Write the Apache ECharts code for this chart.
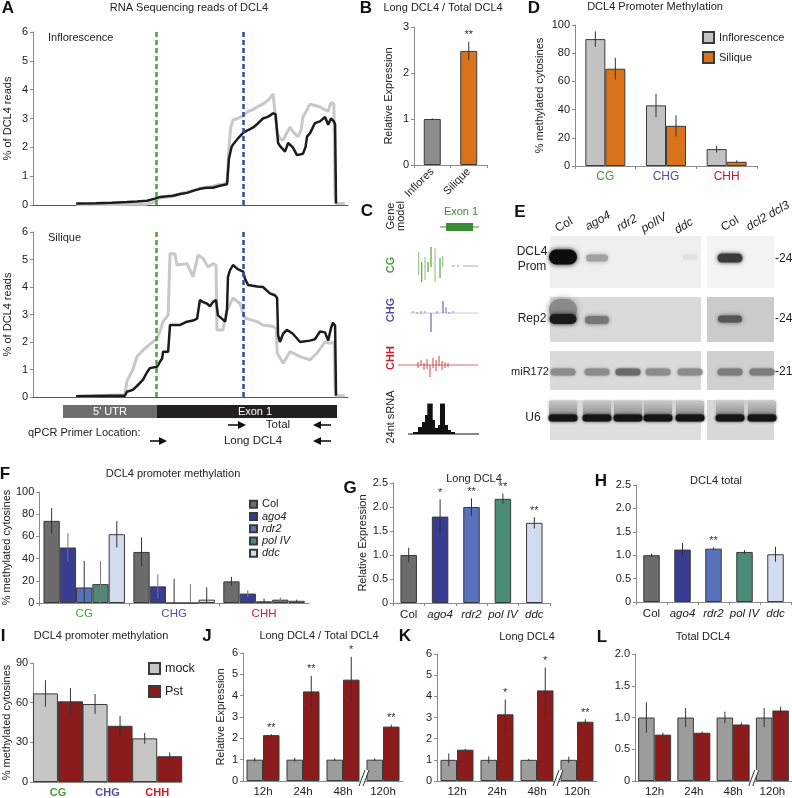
<!DOCTYPE html>
<html><head><meta charset="utf-8">
<script src="https://cdn.jsdelivr.net/npm/echarts@6/dist/echarts.min.js"></script>
<style>html,body{margin:0;padding:0;background:#fff}#c{width:792px;height:798px}</style>
</head><body><div id="c"></div>
<script>
var FONT = '"Liberation Sans", Arial, Helvetica, sans-serif';

// ---------------- DATA ----------------
// Panel A: read coverage along DCL4 (relative position 0-100, % of reads)
var inflorBlack = [[13.7,0.05],[20,0.06],[25,0.08],[29.8,0.1],[33,0.12],[36.2,0.15],[38.7,0.22],[40.3,0.28],[42.5,0.3],[44.4,0.32],[46.7,0.38],[48.9,0.42],[51,0.5],[53,0.56],[55.2,0.6],[57.1,0.6],[59,0.66],[61.6,0.72],[62.2,1.6],[63,2.0],[63.5,2.1],[65,2.3],[66.7,2.5],[68.3,2.6],[69.8,2.68],[71.1,2.8],[73,3.0],[74.3,3.05],[75.2,3.1],[76.2,3.18],[77,3.15],[77.8,2.15],[78.4,2.05],[80,1.85],[81,2.15],[81.6,2.1],[82.5,2.0],[83.8,1.73],[85.7,1.78],[86.5,2.0],[87,2.37],[88,2.5],[89.5,2.84],[91.1,2.9],[92.7,3.05],[93.7,2.78],[94.6,3.0],[95.5,2.9],[95.9,2.8],[96.2,0.05]];
var inflorGrey = [[13.7,0.02],[25,0.02],[36,0.03],[38.5,0.1],[39.4,0.2],[40.3,0.25],[42.5,0.28],[44.4,0.3],[46.7,0.38],[48.9,0.45],[51,0.5],[53,0.58],[55.2,0.62],[57.1,0.65],[59,0.7],[61.6,0.75],[62.2,2.0],[62.8,2.7],[63.5,2.95],[65,3.0],[66.7,3.1],[68.3,3.25],[69.8,3.3],[71.1,3.4],[73,3.5],[74.3,3.6],[75.2,3.7],[76.2,3.85],[76.8,3.85],[77.5,2.5],[78.4,2.3],[79.4,2.25],[80.6,2.5],[81.6,2.7],[82.5,2.55],[84.1,2.37],[85.1,2.6],[85.7,3.05],[87,3.3],[87.9,3.5],[89.5,3.45],[91.1,3.4],[92.7,3.3],[93.7,3.25],[94.6,3.55],[95.5,3.5],[95.9,0.3],[96.2,0.05],[99,0.05]];
var siliqueBlack = [[13.7,0.03],[25,0.05],[29.2,0.05],[29.8,0.19],[31.7,0.26],[33,0.4],[34.9,0.62],[36.2,0.9],[37.1,1.05],[39.4,1.1],[40.3,1.28],[41,1.4],[41.3,1.65],[42.9,1.65],[43.5,2.62],[46.7,2.62],[48.9,2.74],[50.8,2.78],[52.1,2.85],[52.7,2.9],[53,3.53],[54,3.45],[55.2,3.4],[56.2,3.3],[57.1,3.45],[58.1,3.53],[58.7,2.98],[61,2.74],[61.6,3.2],[61.9,4.37],[62.5,4.6],[63.5,4.8],[65,4.65],[66.7,4.56],[67.3,4.3],[68.3,4.07],[71.1,4.02],[73,4.0],[75.2,3.77],[76.8,3.7],[77.5,3.6],[77.8,2.25],[78.4,2.0],[79.4,2.3],[80.6,2.44],[82.5,2.3],[84.8,2.0],[87.9,2.05],[89.5,2.1],[91.1,2.38],[92.7,2.35],[93.7,2.05],[94.6,2.5],[95.2,2.7],[95.9,2.6],[96.2,0.05]];
var siliqueGrey = [[13.7,0.03],[29.2,0.08],[29.8,0.56],[31.7,1.0],[33,1.47],[34.9,1.7],[36.2,1.83],[38.7,2.07],[39.4,2.1],[41.3,2.74],[42.9,2.98],[43.5,5.22],[45.1,5.2],[45.7,4.8],[48.9,4.85],[50.8,4.37],[52.4,5.16],[54,5.04],[55.6,4.73],[57.1,4.85],[58.1,4.8],[58.4,2.44],[60.3,2.44],[61.6,3.16],[63.5,3.6],[65.7,3.4],[67.3,2.87],[71.1,2.74],[73,2.62],[76.2,2.56],[77.2,2.5],[77.5,1.6],[79.4,1.23],[81.6,1.65],[84.8,1.47],[87.9,1.35],[90.2,1.6],[92.7,2.0],[94.3,1.95],[95.6,2.0],[95.9,0.3],[96.2,0.05],[99,0.05]];
var aMarkers = [39, 66.7];

// Panel B
var bCats = ['Inflores', 'Silique'];
var bVals = [1.0, 2.48];
var bErr = [0.015, 0.2];
var bSig = ['', '**'];

// Panel D
var dCats = ['CG', 'CHG', 'CHH'];
var dInflo = [90, 43, 12];
var dInfloErr = [5.5, 8.3, 2.4];
var dSiliq = [69, 28.5, 3];
var dSiliqErr = [7.7, 7.5, 1];

// Panel F
var fCats = ['CG', 'CHG', 'CHH'];
var fGenotypes = ['Col', 'ago4', 'rdr2', 'pol IV', 'ddc'];
var fCol = [74, 46, 19.5], fColErr = [11.5, 13, 4];
var fAgo4 = [50, 15, 8.5], fAgo4Err = [13, 11, 3];
var fRdr2 = [14, 0, 1.5], fRdr2Err = [24, 22, 2.5];
var fPolIV = [17, 0, 3], fPolIVErr = [21, 17, 2];
var fDdc = [62, 3, 2], fDdcErr = [12, 11, 1];

// Panel G / H
var gCats = ['Col', 'ago4', 'rdr2', 'pol IV', 'ddc'];
var gVals = [1.0, 1.8, 2.0, 2.17, 1.67], gErr = [0.15, 0.36, 0.18, 0.11, 0.12], gSig = ['', '*', '**', '**', '**'];
var hVals = [1.0, 1.12, 1.14, 1.07, 1.02], hErr = [0.03, 0.14, 0.03, 0.04, 0.16], hSig = ['', '', '**', '', ''];

// Panel I
var iCats = ['CG', 'CHG', 'CHH'];
var iMock = [67, 59, 33], iMockErr = [10, 7.5, 4];
var iPst = [61, 42.5, 19.5], iPstErr = [10, 7.5, 3];

// Panels J, K, L
var tCats = ['12h', '24h', '48h', '120h'];
var jMock = [1, 1, 1, 1], jMockErr = [0.09, 0.09, 0.06, 0.06];
var jPst = [2.15, 4.2, 4.75, 2.55], jPstErr = [0.05, 0.73, 1.07, 0.09], jSig = ['**', '**', '*', '**'];
var kMock = [1, 1, 1, 1], kMockErr = [0.3, 0.17, 0.05, 0.15];
var kPst = [1.48, 3.15, 4.28, 2.8], kPstErr = [0.04, 0.7, 1.08, 0.12], kSig = ['', '*', '*', '**'];
var lMock = [1, 1, 1, 1], lMockErr = [0.24, 0.15, 0.09, 0.15];
var lPst = [0.73, 0.76, 0.89, 1.11], lPstErr = [0.03, 0.02, 0.03, 0.06];

// ---------------- STYLES ----------------
var ctxColors = ['#4e9a3e', '#50509f', '#c4202c'];
var genoColors = ['#6c6c6c', '#383c93', '#5871bb', '#4a8c78', '#d3dbee'];
var colInflo = '#c2c2c2', colSiliq = '#d9731b', colBInflo = '#8c8c8c';
var colMockI = '#c6c6c6', colMock = '#9c9c9c', colPst = '#8c1b1b';

// ---------------- HELPERS ----------------
function valY(gi, min, max, interval, name, gap, fmt) {
  var a = {type: 'value', gridIndex: gi, min: min, max: max, interval: interval,
    axisLine: {show: true, lineStyle: {color: '#8a8a8a'}},
    axisTick: {show: true, length: 3, lineStyle: {color: '#8a8a8a'}},
    splitLine: {show: false},
    axisLabel: {fontFamily: FONT, fontSize: 11, color: '#222', margin: 5}};
  if (fmt) a.axisLabel.formatter = fmt;
  if (name) { a.name = name; a.nameLocation = 'middle'; a.nameGap = gap;
    a.nameTextStyle = {fontFamily: FONT, fontSize: 11, color: '#222'}; }
  return a;
}
function catX(gi, cats, o) {
  o = o || {};
  var lab = {fontFamily: FONT, fontSize: o.fs || 11, margin: o.margin || 5, color: o.color || '#222',
    fontWeight: o.fw || 'normal', rotate: o.rotate || 0, interval: 0};
  if (o.formatter) { lab.formatter = o.formatter; lab.rich = o.rich; }
  return {type: 'category', gridIndex: gi, data: cats,
    axisLine: {show: true, lineStyle: {color: '#8a8a8a'}},
    axisTick: {show: o.tick !== false, length: 3, lineStyle: {color: '#8a8a8a'}},
    splitLine: {show: false}, axisLabel: lab};
}
function barS(gi, name, vals, color, bw, colors) {
  return {type: 'bar', name: name, xAxisIndex: gi, yAxisIndex: gi, barWidth: bw, barGap: '0%',
    silent: true, animation: false,
    data: vals.map(function (v, i) { return colors ? {value: v, itemStyle: {color: colors[i]}} : v; }),
    itemStyle: {color: color, borderColor: '#3a3a3a', borderWidth: 1}};
}
function errS(gi, vals, errs, si, n, bw, sigs, color) {
  var data = vals.map(function (v, i) { return [i, v, errs[i]]; });
  return {type: 'custom', xAxisIndex: gi, yAxisIndex: gi, data: data, silent: true, animation: false,
    z: 5, clip: false, encode: {x: 0, y: 1},
    renderItem: function (params, api) {
      var i = api.value(0), v = api.value(1), e = api.value(2);
      var lo = Math.max(0, v - e), hi = v + e;
      var p1 = api.coord([i, lo]), p2 = api.coord([i, hi]);
      var x = p1[0] + (si - (n - 1) / 2) * bw;
      var ch = [{type: 'line', shape: {x1: x, y1: p1[1], x2: x, y2: p2[1]}, style: {stroke: color || '#333', lineWidth: 1}}];
      var s = sigs ? sigs[params.dataIndex] : '';
      if (s) ch.push({type: 'text', style: {text: s, x: x, y: p2[1] - 1, align: 'center', verticalAlign: 'bottom',
        fontSize: 11, fontFamily: FONT, fill: '#333'}});
      return {type: 'group', children: ch};
    }};
}
function breakS(gi) {
  return {type: 'custom', xAxisIndex: gi, yAxisIndex: gi, data: [[0, 0]], silent: true, animation: false, z: 10, clip: false,
    renderItem: function (params, api) {
      var a = api.coord([2, 0]), b = api.coord([3, 0]);
      var x = (a[0] + b[0]) / 2 + 1, y = a[1] - 3;
      return {type: 'group', children: [
        {type: 'polygon', shape: {points: [[x - 5, y + 8], [x - 1, y + 8], [x + 5, y - 8], [x + 1, y - 8]]}, style: {fill: '#fff'}},
        {type: 'line', shape: {x1: x - 5, y1: y + 8, x2: x + 1, y2: y - 8}, style: {stroke: '#333', lineWidth: 1}},
        {type: 'line', shape: {x1: x - 1, y1: y + 8, x2: x + 5, y2: y - 8}, style: {stroke: '#333', lineWidth: 1}}
      ]};
    }};
}
var italicFmt = function (v) { return v === 'Col' ? v : '{i|' + v + '}'; };
var italicRich = {i: {fontStyle: 'italic', fontFamily: FONT, fontSize: 11.5, color: '#222'}};
var fmt1 = function (v) { return v === 0 ? '0' : v.toFixed(1); };

// ---------------- GRIDS / AXES / SERIES ----------------
var grids = [
  {left: 33, top: 32, width: 315, height: 173},   // 0 A1
  {left: 33, top: 232, width: 315, height: 165},  // 1 A2
  {left: 414, top: 27, width: 73, height: 138},   // 2 B
  {left: 575, top: 25, width: 182, height: 141},  // 3 D
  {left: 32, top: 492, width: 277, height: 111},  // 4 F
  {left: 393, top: 483, width: 157, height: 120}, // 5 G
  {left: 636, top: 485, width: 155, height: 117}, // 6 H
  {left: 32, top: 663, width: 150, height: 119},  // 7 I
  {left: 243, top: 653, width: 160, height: 129}, // 8 J
  {left: 437, top: 654, width: 160, height: 128}, // 9 K
  {left: 635, top: 654, width: 160, height: 128}  // 10 L
];
var xAxes = [], yAxes = [], series = [];
function lineX(gi) {
  return {type: 'value', gridIndex: gi, min: 0, max: 100, axisLine: {show: true, lineStyle: {color: '#555'}},
    axisTick: {show: false}, axisLabel: {show: false}, splitLine: {show: false}};
}
// A
xAxes.push(lineX(0)); yAxes.push(valY(0, 0, 6, 1, '% of DCL4 reads', 20));
xAxes.push(lineX(1)); yAxes.push(valY(1, 0, 6, 1, '% of DCL4 reads', 20));
function mk() {
  return {symbol: ['none', 'none'], silent: true, animation: false, label: {show: false},
    data: [{xAxis: aMarkers[0], lineStyle: {color: '#5b9b3f', type: [5, 3], width: 2.5}},
           {xAxis: aMarkers[1], lineStyle: {color: '#2f4f9f', type: [5, 3], width: 2.5}}]};
}
[[0, inflorGrey, inflorBlack], [1, siliqueGrey, siliqueBlack]].forEach(function (p) {
  series.push({type: 'line', xAxisIndex: p[0], yAxisIndex: p[0], data: p[1], showSymbol: false, symbol: 'none',
    lineStyle: {color: '#c8c8c8', width: 3}, silent: true, animation: false, z: 2});
  series.push({type: 'line', xAxisIndex: p[0], yAxisIndex: p[0], data: p[2], showSymbol: false, symbol: 'none',
    lineStyle: {color: '#1c1c1c', width: 2.5}, silent: true, animation: false, z: 3, markLine: mk()});
});
// B
xAxes.push(catX(2, bCats, {rotate: 45, fs: 11})); yAxes.push(valY(2, 0, 3, 1, 'Relative Expression', 20));
series.push(barS(2, 'B', bVals, colBInflo, 17, [colBInflo, colSiliq]));
series.push(errS(2, bVals, bErr, 0, 1, 17, bSig));
// D
xAxes.push(catX(3, dCats, {fs: 12, color: function (v, i) { return ctxColors[i]; }, margin: 5}));
yAxes.push(valY(3, 0, 100, 20, '% methylated cytosines', 30));
series.push(barS(3, 'Inflorescence', dInflo, colInflo, 20));
series.push(barS(3, 'Silique', dSiliq, colSiliq, 20));
series.push(errS(3, dInflo, dInfloErr, 0, 2, 20));
series.push(errS(3, dSiliq, dSiliqErr, 1, 2, 20));
// F
xAxes.push(catX(4, fCats, {fs: 11.5, color: function (v, i) { return ctxColors[i]; }}));
yAxes.push(valY(4, 0, 100, 20, '% methylated cytosines', 18));
var fSets = [fCol, fAgo4, fRdr2, fPolIV, fDdc], fErrs = [fColErr, fAgo4Err, fRdr2Err, fPolIVErr, fDdcErr];
fSets.forEach(function (s, k) { series.push(barS(4, fGenotypes[k], s, genoColors[k], 16.3)); });
fSets.forEach(function (s, k) { series.push(errS(4, s, fErrs[k], k, 5, 16.3, null, k % 2 ? '#777' : '#333')); });
// G
xAxes.push(catX(5, gCats, {fs: 11.5, formatter: italicFmt, rich: italicRich, margin: 6}));
yAxes.push(valY(5, 0, 2.5, 0.5, 'Relative Expression', 22, fmt1));
series.push(barS(5, 'G', gVals, '#777', 16.5, genoColors));
series.push(errS(5, gVals, gErr, 0, 1, 16.5, gSig));
// H
xAxes.push(catX(6, gCats, {fs: 11.5, formatter: italicFmt, rich: italicRich, margin: 6}));
yAxes.push(valY(6, 0, 2.5, 0.5, '', 0, fmt1));
series.push(barS(6, 'H', hVals, '#777', 16.5, genoColors));
series.push(errS(6, hVals, hErr, 0, 1, 16.5, hSig));
// I
xAxes.push(catX(7, iCats, {fs: 11, fw: 'bold', color: function (v, i) { return ctxColors[i]; }, tick: false}));
yAxes.push(valY(7, 0, 90, 30, '% methylated cytosines', 21));
series.push(barS(7, 'mock', iMock, colMockI, 25));
series.push(barS(7, 'Pst', iPst, colPst, 25));
series.push(errS(7, iMock, iMockErr, 0, 2, 25));
series.push(errS(7, iPst, iPstErr, 1, 2, 25));
// J K L
[[8, jMock, jMockErr, jPst, jPstErr, jSig, 6, 1, 'Relative Expression'],
 [9, kMock, kMockErr, kPst, kPstErr, kSig, 6, 1, ''],
 [10, lMock, lMockErr, lPst, lPstErr, null, 2, 0.5, '']].forEach(function (p) {
  var gi = p[0];
  xAxes.push(catX(gi, tCats, {fs: 11.5, tick: false}));
  yAxes.push(valY(gi, 0, p[6], p[7], p[8], 17, p[7] < 1 ? fmt1 : null));
  series.push(barS(gi, 'mock' + gi, p[1], colMock, 16.5));
  series.push(barS(gi, 'Pst' + gi, p[3], colPst, 16.5));
  series.push(errS(gi, p[1], p[2], 0, 2, 16.5));
  series.push(errS(gi, p[3], p[4], 1, 2, 16.5, p[5]));
  series.push(breakS(gi));
});

// ---------------- GRAPHICS (labels, schematics, blots) ----------------
var G = [];
function txt(x, y, s, o) {
  o = o || {};
  G.push({type: 'text', x: x, y: y, rotation: o.rot || 0, silent: true, z: 20,
    style: {text: s, fontSize: o.fs || 11, fontFamily: FONT, fontWeight: o.fw || 'normal',
      fontStyle: o.it ? 'italic' : 'normal', fill: o.c || '#222', align: o.al || 'center',
      verticalAlign: o.va || 'middle', lineHeight: o.lh || null}});
}
function ln(x1, y1, x2, y2, c, w) {
  G.push({type: 'line', silent: true, z: 20, shape: {x1: x1, y1: y1, x2: x2, y2: y2}, style: {stroke: c, lineWidth: w || 1}});
}
function rc(x, y, w, h, fill, extra) {
  G.push({type: 'rect', silent: true, z: 15, shape: {x: x, y: y, width: w, height: h, r: (extra && extra.r) || 0},
    style: Object.assign({fill: fill}, extra && extra.style || {})});
}
function band(cx, cy, w, h, color, blur) {
  G.push({type: 'rect', silent: true, z: 16, shape: {x: cx - w / 2, y: cy - h / 2, width: w, height: h, r: h / 2},
    style: {fill: color, shadowBlur: blur || 4, shadowColor: color}});
}
function arrow(x1, x2, y) {
  var d = x2 > x1 ? 1 : -1;
  ln(x1, y, x2 - d * 6, y, '#111', 1.6);
  G.push({type: 'polygon', silent: true, z: 20, shape: {points: [[x2, y], [x2 - d * 8, y - 4], [x2 - d * 8, y + 4]]}, style: {fill: '#111'}});
}
// Panel letters and titles
var L = [['A', 8, 8], ['B', 366, 8], ['C', 367, 211], ['D', 534, 8], ['E', 520, 212], ['F', 5, 474],
         ['G', 350, 488], ['H', 601, 481], ['I', 3, 636], ['J', 207, 636], ['K', 405, 636], ['L', 602, 637]];
L.forEach(function (l) { txt(l[1], l[2], l[0], {fs: 17, fw: 'bold', c: '#111'}); });
txt(189, 8, 'RNA Sequencing reads of DCL4');
txt(443, 8, 'Long DCL4 / Total DCL4');
txt(655, 7, 'DCL4 Promoter Methylation');
txt(173, 474, 'DCL4 promoter methylation');
txt(474, 479, 'Long DCL4');
txt(716, 481, 'DCL4 total');
txt(101, 636, 'DCL4 promoter methylation');
txt(319, 636, 'Long DCL4 / Total DCL4');
txt(527, 637, 'Long DCL4');
txt(703, 637, 'Total DCL4');
txt(48, 38, 'Inflorescence', {al: 'left'});
txt(48, 238, 'Silique', {al: 'left'});
// A gene model + primers
rc(63, 405, 94, 13, '#6e6e6e');
rc(157, 405, 180, 13, '#231f20');
txt(110, 412, "5' UTR", {c: '#fff', fs: 11});
txt(255, 412, 'Exon 1', {c: '#fff', fs: 11});
txt(28, 433, 'qPCR Primer Location:', {al: 'left', fs: 11});
arrow(228, 246, 425); txt(278, 425, 'Total', {fs: 11.5});
arrow(331, 313, 425);
arrow(150, 167, 441); txt(253, 441, 'Long DCL4', {fs: 11.5});
arrow(331, 313, 441);

// Panel C: gene model and methylation tracks
txt(396, 216, 'Gene\nmodel', {rot: Math.PI / 2, lh: 10});
txt(391, 265, 'CG', {rot: Math.PI / 2, fw: 'bold', c: ctxColors[0]});
txt(391, 310, 'CHG', {rot: Math.PI / 2, fw: 'bold', c: ctxColors[1]});
txt(391, 358, 'CHH', {rot: Math.PI / 2, fw: 'bold', c: ctxColors[2]});
txt(391, 417, '24nt sRNA', {rot: Math.PI / 2});
txt(461, 212, 'Exon 1', {c: '#3f8a34', fs: 11});
ln(440, 227, 479, 227, '#3f8a34', 1);
rc(446, 223, 27, 8, '#3f8a34');
[[418.7, 252, 275, '#9cc888'], [421.7, 262, 282, '#5f9f48'], [425, 257, 280, '#9cc888'], [428, 262, 272, '#5f9f48'],
 [431, 247, 267, '#5a9a40'], [435, 248, 282, '#9cc888'], [440, 258, 278, '#5f9f48'], [442.7, 256, 267, '#9cc888']]
  .forEach(function (l) { ln(l[0], l[1], l[0], l[2], l[3], 1.2); });
ln(452, 266, 455, 266, '#7a7a7a', 0.8); ln(457, 266, 459, 266, '#7a7a7a', 0.8);
ln(463, 266, 478, 266, '#999', 0.8);
// CHG
ln(410, 313, 478, 313, '#b8b8e0', 0.8);
[[413, 311, 313], [417, 312, 314], [421, 311, 314], [425, 311, 313], [437, 311, 314], [449, 312, 314], [453, 311, 313]]
  .forEach(function (l) { ln(l[0], l[1], l[0], l[2], '#8a8ac8', 1); });
ln(431, 313, 431, 332, '#6868b8', 1.2); ln(443, 301, 443, 313, '#6868b8', 1.2); ln(446, 307, 446, 313, '#8a8ac8', 1.2);
// CHH
ln(398, 365, 478, 365, '#d86a6a', 1);
[[418, 362, 368], [421, 360, 366], [424, 363, 370], [427, 359, 369], [430, 365, 377], [433, 358, 368], [436, 360, 371],
 [439, 356, 366], [442, 361, 370], [445, 362, 368], [448, 363, 367]]
  .forEach(function (l) { ln(l[0], l[1], l[0], l[2], '#d04848', 1); });
// sRNA histogram
ln(408, 434, 479, 434, '#111', 1);
G.push({type: 'polygon', silent: true, z: 20, shape: {points: [[413, 434], [413, 432], [418, 432], [418, 427], [422, 427], [422, 422],
  [425, 422], [425, 415], [427.3, 415], [427.3, 404], [432.7, 404], [432.7, 420], [435, 420], [435, 428], [438, 428], [438, 425],
  [440, 425], [440, 404], [445, 404], [445, 425], [448, 425], [448, 430], [451, 430], [451, 432], [455, 432], [455, 434]]},
  style: {fill: '#111'}});
rc(427.3, 403, 5.4, 2, '#e070b0'); rc(440, 403, 5, 2, '#e070b0');

// Panel E: northern blots
var laneL = [563, 597, 628, 658, 690], laneR = [730, 762];
txt(564, 225, 'Col', {rot: 0.52, fs: 12});
txt(598, 221, 'ago4', {rot: 0.52, fs: 12, it: true});
txt(627, 223, 'rdr2', {rot: 0.52, fs: 12, it: true});
txt(654, 223, 'polIV', {rot: 0.52, fs: 12, it: true});
txt(684, 226, 'ddc', {rot: 0.52, fs: 12, it: true});
txt(730, 224, 'Col', {rot: 0.52, fs: 12});
txt(768, 216, 'dcl2 dcl3', {rot: 0.52, fs: 12, it: true});
txt(532, 252, 'DCL4', {fs: 12}); txt(532, 267, 'Prom', {fs: 12});
txt(532, 319, 'Rep2', {fs: 12}); txt(530, 372, 'miR172', {fs: 11}); txt(533, 418, 'U6', {fs: 12});
txt(775, 259, '-24', {al: 'left', fs: 12}); txt(775, 319, '-24', {al: 'left', fs: 12}); txt(775, 372, '-21', {al: 'left', fs: 12});
rc(550, 236, 151, 52, '#efefef'); rc(707, 236, 67, 52, '#f3f3f3');
rc(550, 297, 151, 45, '#d9d9d9'); rc(707, 297, 67, 45, '#cbcbcb');
rc(550, 351, 151, 39, '#dadada'); rc(707, 351, 67, 39, '#d0d0d0');
rc(550, 400, 151, 40, '#dedede'); rc(707, 400, 67, 40, '#d8d8d8');
band(563, 257, 28, 15, '#0d0d0d', 5); band(597, 258, 22, 7, '#a2a2a2', 4); band(690, 257, 14, 5, '#e0e0e0', 4);
band(730, 258, 25, 9, '#3a3a3a', 4);
band(563, 310, 28, 22, '#8a8a8a', 6); band(563, 319, 27, 10, '#1a1a1a', 4); band(597, 320, 24, 8, '#777', 4);
band(730, 319, 24, 7, '#555', 4);
laneL.forEach(function (x, i) { band(x, 372, 25, 7, i === 2 ? '#6a6a6a' : '#8c8c8c', 3); });
laneR.forEach(function (x) { band(x, 372, 25, 7, '#7c7c7c', 3); });
laneL.concat(laneR).forEach(function (x) {
  G.push({type: 'rect', silent: true, z: 16, shape: {x: x - 14, y: 401, width: 28, height: 16},
    style: {fill: {type: 'linear', x: 0, y: 0, x2: 0, y2: 1, colorStops: [{offset: 0, color: '#c8c8c8'}, {offset: 1, color: '#888'}]}, shadowBlur: 3, shadowColor: '#bbb'}});
  band(x, 418, 29, 7, '#151515', 3);
});

var option = {
  backgroundColor: '#fff', animation: false,
  grid: grids, xAxis: xAxes, yAxis: yAxes, series: series, graphic: G,
  legend: [
    {data: ['Inflorescence', 'Silique'], left: 697, top: 26, orient: 'vertical', itemWidth: 11, itemHeight: 11, itemGap: 7,
      icon: 'rect', selectedMode: false, textStyle: {fontFamily: FONT, fontSize: 11, color: '#222'}},
    {data: fGenotypes, left: 244, top: 493, orient: 'vertical', itemWidth: 7, itemHeight: 7, itemGap: 0,
      icon: 'rect', selectedMode: false, textStyle: {fontFamily: FONT, fontSize: 11, color: '#222', lineHeight: 12.3,
        rich: {i: {fontStyle: 'italic', fontFamily: FONT, fontSize: 11}}},
      formatter: function (n) { return n === 'Col' ? n : '{i|' + n + '}'; }},
    {data: ['mock', 'Pst'], left: 143, top: 657, orient: 'vertical', itemWidth: 11, itemHeight: 11, itemGap: 10,
      icon: 'rect', selectedMode: false, textStyle: {fontFamily: FONT, fontSize: 12.5, color: '#222'}}
  ]
};
var chart = echarts.init(document.getElementById('c'), null, {renderer: 'canvas'});
chart.setOption(option);
</script></body></html>
